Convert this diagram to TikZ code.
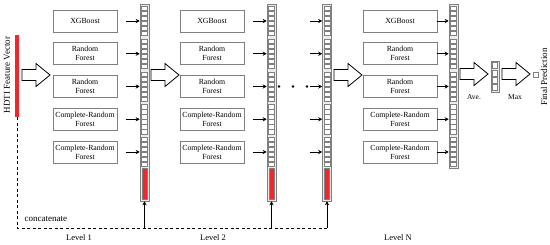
\documentclass[tikz,border=0pt]{standalone}
\usepackage{fontspec}
\setmainfont{Liberation Serif}
\usetikzlibrary{arrows.meta}
\definecolor{vred}{HTML}{F0282D}
\definecolor{lgray}{HTML}{808080}
\newcommand\bigarr[2]{\draw[big] (#1,#2) ++(0,-5.5) -- ++(14,0) -- ++(0,-6) -- ++(14,11.5) -- ++(-14,11.5) -- ++(0,-6) -- ++(-14,0) -- cycle;}
\begin{document}
\begin{tikzpicture}[x=1pt,y=-1pt,
  clf/.style={draw=lgray, line width=0.7pt, fill=white, minimum width=64pt, minimum height=22pt, inner sep=0pt, align=center, font=\fontsize{7.8}{9}\selectfont},
  vec/.style={draw=lgray, fill=gray!15, line width=0.6pt, minimum width=9pt, inner sep=0pt},
  sq/.style={draw=lgray, fill=white, line width=0.5pt},
  sarr/.style={-{Stealth[length=4pt,width=4.2pt]}, line width=0.8pt},
  big/.style={draw=black, fill=white, line width=0.8pt},
  lbl/.style={font=\fontsize{8.5}{10}\selectfont}]
\useasboundingbox (0,0) rectangle (550,245);

% classifier boxes
\foreach \t [count=\i from 0] in {XGBoost,{Random\\Forest},{Random\\Forest},{Complete-Random\\Forest},{Complete-Random\\Forest}}{
  \node[clf] (a\i) at (85,{21+32.75*\i}) {\t};
  \node[clf] (b\i) at (212,{21+32.75*\i}) {\t};
  \node[clf,minimum width=74pt] (c\i) at (400,{21+32.75*\i}) {\t};
}

% class vectors
\node[vec, minimum height=197pt] (v1) at (144.5,102.5) {};
\node[vec, minimum height=197pt] (v2) at (271.5,102.5) {};
\node[vec, minimum height=197pt] (v3) at (327,102.5) {};
\node[vec, minimum height=164pt] (vN) at (453.5,86) {};
\foreach \cx in {144.5,271.5,327,453.5}
  \foreach \g in {0,...,4}
    \foreach \s in {0,...,5}
      \draw[sq] ({\cx-3},{6.5+32.75*\g+5*\s}) rectangle ++(6,4.2);
\foreach \cx in {144.5,271.5,327}
  \draw[sq, fill=vred] ({\cx-2.5},168.5) rectangle ({\cx+2.5},199.5);

% small arrows
\foreach \i in {0,...,4}{
  \draw[sarr, shorten <=9pt] (a\i.east) -- (v1.west |- a\i.east);
  \draw[sarr, shorten <=9pt] (b\i.east) -- (v2.west |- b\i.east);
  \coordinate (d\i) at (310,{21+32.75*\i});
  \draw[sarr] (d\i) -- (v3.west |- d\i);
  \draw[sarr] (c\i.east) -- (vN.west |- c\i.east);
}
\fill (279,86.5) circle (1.4pt) (293,86.5) circle (1.4pt) (307,86.5) circle (1.4pt);

% input feature vector
\node[fill=vred, minimum width=4.5pt, minimum height=82pt, inner sep=0pt] (hv) at (17,76) {};
\node[rotate=90, font=\fontsize{9}{10}\selectfont] (hl) at (7,75) {HDTI Feature Vector};

% big arrows
\bigarr{22}{75}
\bigarr{151}{75}
\bigarr{334}{75}
\bigarr{460}{74}
\bigarr{502}{74}

% averaged vector and final prediction
\node[vec, minimum width=8pt, minimum height=31pt] (av) at (495,76.5) {};
\foreach \s in {0,...,3}
  \draw[sq] (492.5,{62.5+7.4*\s}) rectangle ++(5,6);
\node[draw=lgray, fill=white, line width=0.6pt, minimum size=5pt, inner sep=0pt] (fp) at (535.5,75) {};
\node[font=\fontsize{7.5}{8}\selectfont] (ave) at (474,97) {Ave.};
\node[font=\fontsize{7.5}{8}\selectfont] (max) at (515,97) {Max};
\node[rotate=90, font=\fontsize{9}{10}\selectfont] (fpl) at (544,77) {Final Prediction};

% concatenate connections
\coordinate (dc) at (17,228);
\coordinate (de) at (327,228);
\draw[line width=0.8pt, dash pattern=on 3pt off 2.5pt] (hv.south) -- (dc) -- (de);
\draw[sarr] (v1.south |- dc) -- (v1.south);
\draw[sarr] (v2.south |- dc) -- (v2.south);
\draw[sarr] (v3.south |- dc) -- (v3.south);
\node[anchor=west, font=\fontsize{9}{10}\selectfont] (cc) at (21,219) {concatenate};

% level labels
\node[lbl] (l1) at (79,238) {Level 1};
\node[lbl] (l2) at (213,238) {Level 2};
\node[lbl] (lN) at (398,238) {Level N};
\end{tikzpicture}
\end{document}
